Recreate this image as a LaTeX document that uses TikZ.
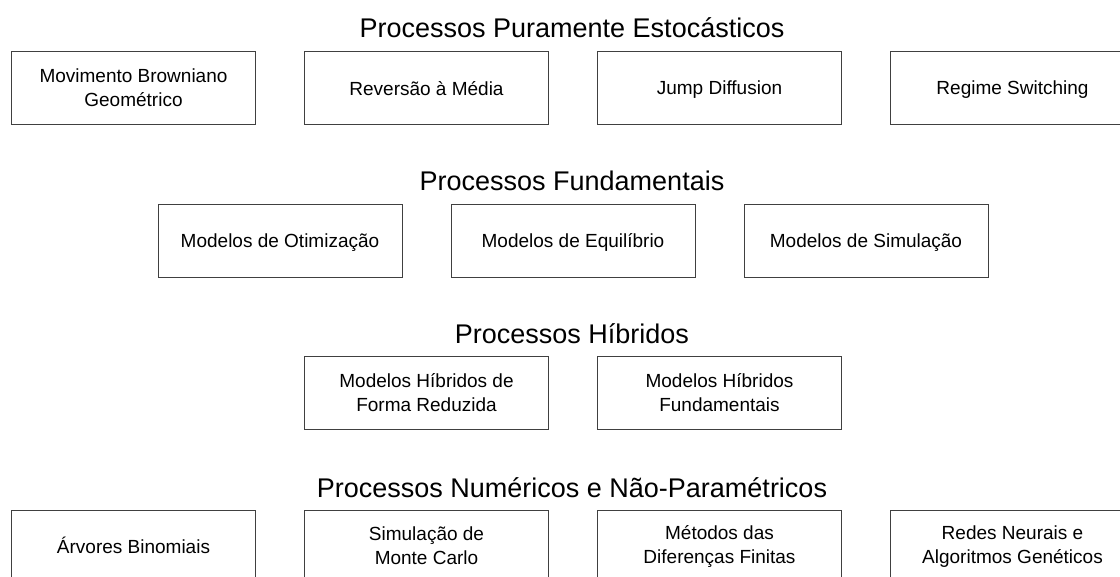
\documentclass[tikz,border=0pt]{standalone}
\usepackage{fontspec}
\setmainfont{Liberation Sans}
\usepackage{tikz}

% strut so that every line of a box is centred the same way
\newcommand{\linhaStrut}{\rule[-2.6pt]{0pt}{19pt}}

\begin{document}
\begin{tikzpicture}[x=1pt, y=-1pt,
    caixa/.style={draw=black!75, line width=1pt, minimum width=244pt, minimum height=73pt,
        inner sep=0pt, align=center, font=\fontsize{19}{24}\selectfont,
        execute at begin node=\linhaStrut, execute at end node=\linhaStrut},
    titulo/.style={anchor=base, font=\fontsize{27}{32}\selectfont}]
    \useasboundingbox (0, 0) rectangle (1120, 577);
    \clip (0, 0) rectangle (1120, 577);
    % Processos Puramente Estocasticos
    \node[titulo] (tEst) at (572, 38) {Processos Puramente Estocásticos};
    \node[caixa] (mbg) at (133.5, 88.5) {Movimento Browniano\\Geométrico};
    \node[caixa] (rev) at (426.5, 88.5) {Reversão à Média};
    \node[caixa] (jump) at (719.5, 88.5) {Jump Diffusion};
    \node[caixa] (regime) at (1012.5, 88.5) {Regime Switching};
    % Processos Fundamentais
    \node[titulo] (tFund) at (572, 191) {Processos Fundamentais};
    \node[caixa] (otim) at (280, 241.5) {Modelos de Otimização};
    \node[caixa] (equil) at (573, 241.5) {Modelos de Equilíbrio};
    \node[caixa] (simul) at (866, 241.5) {Modelos de Simulação};
    % Processos Hibridos
    \node[titulo] (tHib) at (572, 344) {Processos Híbridos};
    \node[caixa] (hibRed) at (426.5, 393.5) {Modelos Híbridos de\\Forma Reduzida};
    \node[caixa] (hibFund) at (719.5, 393.5) {Modelos Híbridos\\Fundamentais};
    % Processos Numericos e Nao-Parametricos
    \node[titulo] (tNum) at (572, 497) {Processos Numéricos e Não-Paramétricos};
    \node[caixa] (arv) at (133.5, 547) {Árvores Binomiais};
    \node[caixa] (monte) at (426.5, 547) {Simulação de\\Monte Carlo};
    \node[caixa] (difer) at (719.5, 547) {Métodos das\\Diferenças Finitas};
    \node[caixa] (redes) at (1012.5, 547) {Redes Neurais e\\Algoritmos Genéticos};
\end{tikzpicture}
\end{document}
